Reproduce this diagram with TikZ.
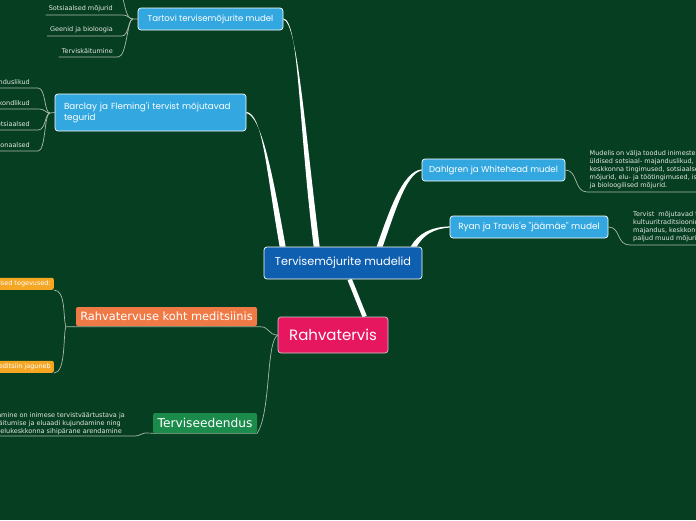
\documentclass[tikz,border=0pt]{standalone}
\usepackage{fontspec}
\setmainfont{DejaVu Sans}
\newfontfamily\handfont{Poppins}
\usetikzlibrary{calc}
\pgfdeclarelayer{back}
\pgfsetlayers{back,main}
\definecolor{bgc}{HTML}{063E21}
\definecolor{lblue}{HTML}{33A8E0}
\definecolor{dblue}{HTML}{0F5FB0}
\definecolor{pinkc}{HTML}{E6175E}
\definecolor{orangec}{HTML}{F07A45}
\definecolor{greenc}{HTML}{1B8B4B}
\definecolor{yorange}{HTML}{F5A623}
\definecolor{leaftxt}{HTML}{E4E8E4}
\definecolor{linkc}{HTML}{A9BBA9}
\newcommand{\jline}[2]{\makebox[#1][s]{#2}}
\begin{document}
\begin{tikzpicture}[x=1pt,y=-1pt,
  handbox/.style={draw=white, line width=0.7pt, rounded corners=3pt, fill=lblue, text=white, inner sep=0pt, font=\handfont\fontsize{8.6}{10.5}\selectfont},
  flatbox/.style={rounded corners=2pt, text=white, inner sep=0pt, font=\fontsize{11.4}{13}\selectfont},
  ybox/.style={fill=yorange, rounded corners=2pt, text=white, inner xsep=3pt, inner ysep=0pt, minimum height=12pt, font=\fontsize{6.5}{7.5}\selectfont},
  leaf/.style={text=leaftxt, inner sep=0pt, font=\fontsize{6.5}{8}\selectfont},
  para/.style={text=leaftxt, inner sep=0pt, align=left, font=\fontsize{6.5}{8}\selectfont},
  thinlink/.style={draw=linkc, line width=0.7pt}]
\useasboundingbox (0,0) rectangle (696,520);
\begin{pgfonlayer}{back}
\fill[bgc] (0,0) rectangle (696,520);
\end{pgfonlayer}
\begin{scope}
\clip (0,0) rectangle (696,520);
% main nodes
\node[handbox, minimum width=145pt, minimum height=22pt] (tart) at (210.5,19) {Tartovi tervisemõjurite mudel};
\node[handbox, minimum width=191pt, minimum height=37pt, text width=173pt, align=left, font=\handfont\fontsize{8.8}{11}\selectfont] (barc) at (150.5,112.5) {Barclay ja Fleming'i tervist mõjutavad\\tegurid};
\node[handbox, minimum width=143pt, minimum height=22pt] (dahl) at (493.5,170) {Dahlgren ja Whitehead mudel};
\node[handbox, minimum width=158pt, minimum height=22pt, font=\handfont\fontsize{8.9}{10.5}\selectfont] (ryan) at (529,227) {Ryan ja Travis'e "jäämäe" mudel};
\node[handbox, fill=dblue, minimum width=158pt, minimum height=32pt, font=\handfont\fontsize{11.3}{13}\selectfont] (mod) at (343,263) {Tervisemõjurite mudelid};
\node[handbox, fill=pinkc, draw=gray!40, minimum width=110pt, minimum height=36pt, font=\handfont\fontsize{15}{17}\selectfont] (rahv) at (333,335) {Rahvatervis};
\node[flatbox, fill=orangec, minimum width=181pt, minimum height=19pt] (koht) at (166.5,316.5) {Rahvatervuse koht meditsiinis};
\node[flatbox, fill=greenc, minimum width=104pt, minimum height=20pt, font=\fontsize{12.2}{14}\selectfont] (edend) at (205,423) {Terviseedendus};
\node[ybox, anchor=south east] (y1) at (54,290) {Rahvatervise põhilised tegevused:};
\node[ybox, anchor=south east] (y2) at (54,373) {Meditsiin jaguneb};
% leaves of Tartovi
\node[leaf, anchor=base east] (t1) at (113,10.5) {Sotsiaalsed mõjurid};
\node[leaf, anchor=base east] (t2) at (113,31.5) {Geenid ja bioloogia};
\node[leaf, anchor=base east] (t3) at (113,53) {Terviskäitumine};
% leaves of Barclay
\node[leaf, anchor=base east] (b1) at (30,84.5) {Majanduslikud};
\node[leaf, anchor=base east] (b2) at (30,105.5) {Keskkondlikud};
\node[leaf, anchor=base east] (b3) at (30,126.5) {Sotsiaalsed};
\node[leaf, anchor=base east] (b4) at (30,147.5) {Personaalsed};
% paragraphs
\node[para, anchor=north west] (dtext) at (589.5,150) {\jline{106pt}{Mudelis on välja toodud inimeste}\\üldised sotsiaal- majanduslikud,\\keskkonna tingimused, sotsiaalsed\\mõjurid, elu- ja töötingimused, isiklikud\\ja bioloogilised mõjurid.};
\node[para, anchor=north west] (rtext) at (633,211) {Tervist\ \ mõjutavad tegurid\\kultuuritraditsioonid,\\majandus, keskkond ja\\paljud muud mõjurid.};
\node[leaf, anchor=base east] (e1) at (125,417) {Terviseedendamine on inimese tervistväärtustava ja};
\node[leaf, anchor=base east] (e2) at (121,425) {tervisekäitumise ja eluaadi kujundamine ning};
\node[leaf, anchor=base east] (e3) at (122,433) {tervisliku elukeskkonna sihipärane arendamine};
\coordinate (tj) at (133,19);
\coordinate (bj) at (50,113);
\coordinate (ttop) at (121,-8);
\begin{pgfonlayer}{back}
% thick tapered links
\fill[white] ($(tart.east)+(0,-0.6)$) .. controls (299,20) and (298,120) .. ($(mod.north west)+(50,0)$) -- ($(mod.north west)+(56,0)$) .. controls (304,120) and (297,22) .. ($(tart.east)+(0,0.6)$) -- cycle;
\fill[white] ($(barc.east)+(0,-0.6)$) .. controls (263,114) and (266,170) .. ($(mod.north west)+(16,0)$) -- ($(mod.north west)+(22,0)$) .. controls (272,170) and (261,116) .. ($(barc.east)+(0,0.6)$) -- cycle;
\fill[white] ($(dahl.west)+(0,-0.6)$) .. controls (402,171) and (388,215) .. ($(mod.north west)+(113,0)$) -- ($(mod.north west)+(119,0)$) .. controls (394,215) and (406,173) .. ($(dahl.west)+(0,0.6)$) -- cycle;
\fill[white] ($(ryan.west)+(0,-0.6)$) .. controls (430,227) and (418,234) .. ($(mod.north west)+(147,0)$) -- ($(mod.north west)+(153,0)$) .. controls (424,235) and (432,229) .. ($(ryan.west)+(0,0.6)$) -- cycle;
\draw[white, line width=4.5pt] ($(rahv.north west)+(87,0)$) -- ($(mod.south west)+(86,0)$);
% thin links: Tartovi
\draw[thinlink] (tart.west) -- (tj) .. controls (126,19) and (126,8) .. (ttop);
\draw[thinlink] (tj) .. controls (129,19) and (129,15) .. (122,15) -- ($(t1.base west)+(-3,4.5)$);
\draw[thinlink] (tj) .. controls (128,19) and (129,36) .. (122,36) -- ($(t2.base west)+(-3,4.5)$);
\draw[thinlink] (tj) .. controls (127,19) and (127,57) .. (118,57) -- ($(t3.base west)+(-3,4)$);
% thin links: Barclay
\draw[thinlink] (barc.west) -- (bj);
\draw[thinlink] (bj) .. controls (44,113) and (46,88) .. (38,88) -- ($(b1.base west)+(-20,3.5)$);
\draw[thinlink] (bj) .. controls (45,113) and (46,109) .. (38,109) -- ($(b2.base west)+(-20,3.5)$);
\draw[thinlink] (bj) .. controls (45,113) and (46,130) .. (38,130) -- ($(b3.base west)+(-20,3.5)$);
\draw[thinlink] (bj) .. controls (44,113) and (46,151) .. (38,151) -- ($(b4.base west)+(-20,3.5)$);
% right side
\draw[thinlink] (dahl.east) .. controls (578,170) and (574,192) .. (587,192) -- (700,192);
\draw[thinlink] (ryan.east) .. controls (621,227) and (616,245) .. (630,245) -- (700,245);
% Rahvatervis children
\draw[thinlink] (rahv.west) .. controls (268,335) and (270,327) .. ($(koht.south east)+(3,0.5)$) -- ($(koht.south west)+(-10,0.5)$) coordinate (kj);
\draw[thinlink] (kj) .. controls (63,318) and (66,290) .. (y1.south east);
\draw[thinlink] (kj) .. controls (63,336) and (66,373) .. (y2.south east);
\draw[thinlink] (rahv.west) .. controls (266,342) and (271,412) .. (edend.south east) -- (edend.south west) -- (145,433) .. controls (141,433) and (140,436) .. (135,436) -- (-5,436);
\end{pgfonlayer}
\end{scope}
\end{tikzpicture}
\end{document}
